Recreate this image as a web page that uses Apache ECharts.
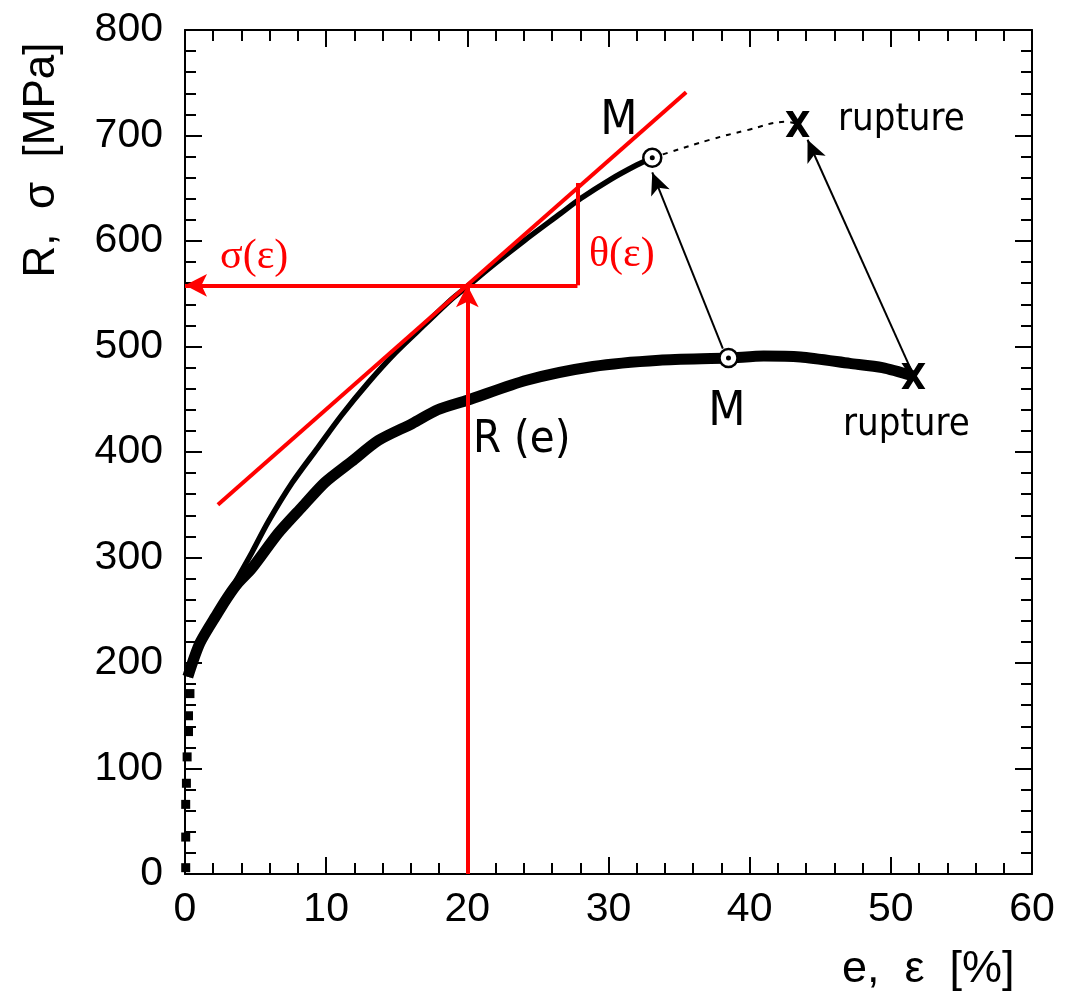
<!DOCTYPE html>
<html>
<head>
<meta charset="utf-8">
<script src="https://cdn.jsdelivr.net/npm/echarts@6/dist/echarts.min.js"></script>
<style>
  html, body { margin: 0; padding: 0; background: #fff; }
  #chart { width: 1066px; height: 996px; }
</style>
</head>
<body>
<div id="chart"></div>
<script>
// engineering curve R(e)
var engStrain = [0.2, 1.06, 2.3, 3.0, 3.7, 4.75, 6.6, 8.3, 9.9, 11.8, 13.7, 16.1, 17.9, 20, 24.2, 28.9, 33.6, 38.5, 41, 43.6, 47.1, 49.4, 51.6];
var engStress = [187, 219, 247, 262, 275, 290, 323, 348, 371, 391, 411, 427, 440, 449, 468, 481, 487, 489, 491, 490, 484, 480, 472];
// start-up points along the stress axis
var startStrain = [0.05, 0.05, 0.05, 0.1, 0.15, 0.25, 0.25, 0.35];
var startStress = [6, 35, 66, 86, 111, 135, 150, 171];
// true curve sigma(eps)
var trueStrain = [0.2, 1.06, 2.3, 3.0, 3.7, 4.75, 5.9, 7.6, 9.4, 11.1, 13.0, 14.9, 17.0, 18.9, 20, 22, 24, 26.6, 28, 30.1, 32, 33.1];
var trueStress = [187, 219, 247, 263, 280, 305, 334, 371, 404, 435, 466, 494, 521, 545, 557, 579, 600, 626, 640, 658, 672, 679];
// dotted extension to rupture
var extStrain = [33.1, 34.3, 37.2, 39.8, 42.6, 43.4];
var extStress = [679, 684, 696, 705, 713, 711];
// special points
var maxEng = [38.5, 489];
var maxTrue = [33.1, 679];
var ruptEng = [51.6, 472];
var ruptTrue = [43.4, 711];
// construction lines
var tangent = [[2.33, 350], [35.5, 741]];
var strainAt = 20, stressAt = 558, thetaX = 27.8, thetaTop = 655;
// arrows from engineering to true points
var arrowM = [[38.1, 498], [33.1, 665]];
var arrowR = [[51.5, 476], [44.1, 696]];

function pairs(xs, ys) {
  var out = [];
  for (var i = 0; i < xs.length; ++i) out.push([xs[i], ys[i]]);
  return out;
}

var chart = echarts.init(document.getElementById('chart'));
var labelFont = { fontFamily: 'Liberation Sans, Arial, sans-serif', fontSize: 41, color: '#000' };
var annFont = 'DejaVu Sans Condensed, DejaVu Sans, sans-serif';
var xPath = 'path://M0,0 L7,0 L12,8 L17,0 L24,0 L15.5,13 L24,26 L17,26 L12,18 L7,26 L0,26 L8.5,13 Z';

function axisCommon() {
  return {
    axisLine: { show: true, onZero: false, lineStyle: { color: '#000', width: 2 } },
    axisTick: { show: true, inside: true, length: 17, lineStyle: { color: '#000', width: 2 } },
    minorTick: { show: true, splitNumber: 5, length: 11, lineStyle: { color: '#000', width: 2 } },
    splitLine: { show: false },
    minorSplitLine: { show: false }
  };
}

var option = {
  backgroundColor: '#fff',
  animation: false,
  grid: { left: 185, right: 34, top: 30, bottom: 122 },
  xAxis: [
    Object.assign({
      type: 'value', min: 0, max: 60, interval: 10, position: 'bottom',
      axisLabel: Object.assign({ margin: 15 }, labelFont)
    }, axisCommon()),
    Object.assign({
      type: 'value', min: 0, max: 60, interval: 10, position: 'top',
      axisLabel: { show: false }
    }, axisCommon())
  ],
  yAxis: [
    Object.assign({
      type: 'value', min: 0, max: 800, interval: 100, position: 'left',
      axisLabel: Object.assign({ margin: 22, padding: [0, 0, 10, 0] }, labelFont)
    }, axisCommon()),
    Object.assign({
      type: 'value', min: 0, max: 800, interval: 100, position: 'right',
      axisLabel: { show: false }
    }, axisCommon())
  ],
  series: [
    {
      name: 'R(e)', type: 'line', data: pairs(engStrain, engStress),
      smooth: 0.25, showSymbol: false, z: 3,
      lineStyle: { color: '#000', width: 11 }
    },
    {
      name: 'start', type: 'scatter', data: pairs(startStrain, startStress),
      symbol: 'rect', symbolSize: 9, z: 3,
      itemStyle: { color: '#000', opacity: 1 }
    },
    {
      name: 'sigma', type: 'line', data: pairs(trueStrain, trueStress),
      smooth: 0.3, showSymbol: false, z: 3,
      lineStyle: { color: '#000', width: 5.5 }
    },
    {
      name: 'ext', type: 'line', data: pairs(extStrain, extStress),
      smooth: 0.4, showSymbol: false, z: 3,
      lineStyle: { color: '#000', width: 2, type: [5, 6] },
      markLine: {
        silent: true, symbol: ['none', 'arrow'], symbolSize: [15, 22],
        label: { show: false },
        lineStyle: { color: '#000', width: 2, type: 'solid' },
        data: [
          [{ coord: arrowM[0] }, { coord: arrowM[1] }],
          [{ coord: arrowR[0] }, { coord: arrowR[1] }]
        ]
      }
    },
    {
      name: 'red', type: 'line', data: tangent, showSymbol: false, z: 4,
      lineStyle: { color: '#ff0000', width: 4 },
      markLine: {
        silent: true, symbol: ['none', 'arrow'], symbolSize: [17, 22],
        label: { show: false },
        lineStyle: { color: '#ff0000', width: 4, type: 'solid' },
        data: [
          [{ coord: [thetaX, stressAt] }, { coord: [0, stressAt] }],
          [{ coord: [strainAt, 0] }, { coord: [strainAt, stressAt] }],
          [{ coord: [thetaX, stressAt], symbol: 'none' }, { coord: [thetaX, thetaTop], symbol: 'none' }]
        ]
      }
    },
    {
      name: 'maxima', type: 'scatter', data: [maxEng, maxTrue],
      symbol: 'circle', symbolSize: 18, z: 6,
      itemStyle: { color: '#fff', borderColor: '#000', borderWidth: 2.5, opacity: 1 }
    },
    {
      name: 'maxdot', type: 'scatter', data: [maxEng, maxTrue],
      symbol: 'circle', symbolSize: 5, z: 7,
      itemStyle: { color: '#000', opacity: 1 }
    },
    {
      name: 'rupture', type: 'scatter', data: [ruptEng, ruptTrue],
      symbol: xPath, symbolSize: [24, 26], z: 6,
      itemStyle: { color: '#000', opacity: 1 }
    }
  ],
  graphic: [
    { type: 'text', x: 42, y: 160, rotation: Math.PI / 2,
      style: { text: 'R,  σ  [MPa]', fontFamily: 'Liberation Sans, Arial, sans-serif', fontSize: 44, fill: '#000', align: 'center', verticalAlign: 'middle' } },
    { type: 'text', x: 842, y: 970,
      style: { text: 'e,  ε  [%]', fontFamily: 'Liberation Sans, Arial, sans-serif', fontSize: 45, fill: '#000', align: 'left', verticalAlign: 'middle' } },
    { type: 'text', x: 619, y: 122,
      style: { text: 'M', fontFamily: annFont, fontSize: 48, fill: '#000', align: 'center', verticalAlign: 'middle' } },
    { type: 'text', x: 727, y: 413,
      style: { text: 'M', fontFamily: annFont, fontSize: 48, fill: '#000', align: 'center', verticalAlign: 'middle' } },
    { type: 'text', x: 838, y: 120,
      style: { text: 'rupture', fontFamily: annFont, fontSize: 38, fill: '#000', align: 'left', verticalAlign: 'middle' } },
    { type: 'text', x: 843, y: 425,
      style: { text: 'rupture', fontFamily: annFont, fontSize: 38, fill: '#000', align: 'left', verticalAlign: 'middle' } },
    { type: 'text', x: 473, y: 440,
      style: { text: 'R (e)', fontFamily: annFont, fontSize: 45, fill: '#000', align: 'left', verticalAlign: 'middle' } },
    { type: 'text', x: 220, y: 257,
      style: { text: 'σ(ε)', fontFamily: 'Liberation Serif, Times New Roman, serif', fontSize: 42, fill: '#ff0000', align: 'left', verticalAlign: 'middle' } },
    { type: 'text', x: 589, y: 255,
      style: { text: 'θ(ε)', fontFamily: 'Liberation Serif, Times New Roman, serif', fontSize: 42, fill: '#ff0000', align: 'left', verticalAlign: 'middle' } }
  ]
};

chart.setOption(option);
</script>
</body>
</html>
